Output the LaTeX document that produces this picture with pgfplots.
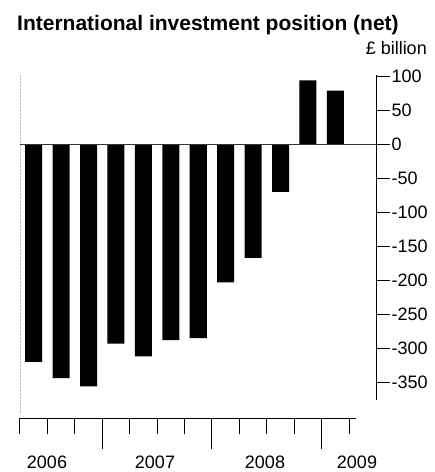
\documentclass[border=0pt]{standalone}
\usepackage{pgfplots}
\pgfplotsset{compat=1.18}
\usepackage{fontspec}
\setmainfont{Liberation Sans}
\begin{document}
\begin{tikzpicture}[x=1pt,y=1pt]
% pixel (px,py) -> tikz (px-20, 400-py)
\useasboundingbox (-20,-72) rectangle (415,400);
\begin{axis}[at={(0pt,0pt)}, anchor=south west, scale only axis,
  width=356.5pt, height=325pt,
  xmin=0, xmax=13, ymin=-376, ymax=102,
  axis x line=none, axis y line*=right,
  ytick={-350,-300,-250,-200,-150,-100,-50,0,50,100},
  yticklabels={-350,-300,-250,-200,-150,-100,-50,0,50,100},
  tick align=outside, major tick length=13pt,
  tick style={black, line width=1pt},
  axis line style={black, line width=1pt},
  yticklabel style={font=\fontsize{18}{20}\selectfont, anchor=west, inner sep=2pt},
  clip=false, ybar, bar width=0.62]
\draw[black!25, densely dotted] (axis cs:0,102) -- (axis cs:0,-395);
\addplot[fill=black, draw=none] coordinates {
(0.5,-320) (1.5,-344) (2.5,-356) (3.5,-293) (4.5,-312) (5.5,-288)
(6.5,-285) (7.5,-203) (8.5,-167) (9.5,-70) (10.5,94) (11.5,79)};
\draw[black!80, line width=0.8pt] (axis cs:0,0) -- (axis cs:13,0);
\end{axis}
\node[anchor=base west,font=\bfseries\fontsize{21}{24}\selectfont,inner sep=0] at (-3,369) {International investment position (net)};
\node[anchor=base east,font=\fontsize{18}{20}\selectfont,inner sep=0] at (407,345) {£ billion};
\draw[line width=1pt] (0,-18) -- (336,-18);
\foreach \i in {0,...,12} {\draw[line width=1pt] (\i*27.423,-18) -- ++(0,-16);}
\foreach \i in {3,7,11} {\draw[line width=1pt] (\i*27.423,-18) -- ++(0,-31);}
\begin{scope}[every node/.style={anchor=base,font=\fontsize{18}{20}\selectfont,inner sep=0}]
\node at (27,-68) {2006};
\node at (135,-68) {2007};
\node at (245,-68) {2008};
\node at (337,-68) {2009};
\end{scope}
\end{tikzpicture}
\end{document}
